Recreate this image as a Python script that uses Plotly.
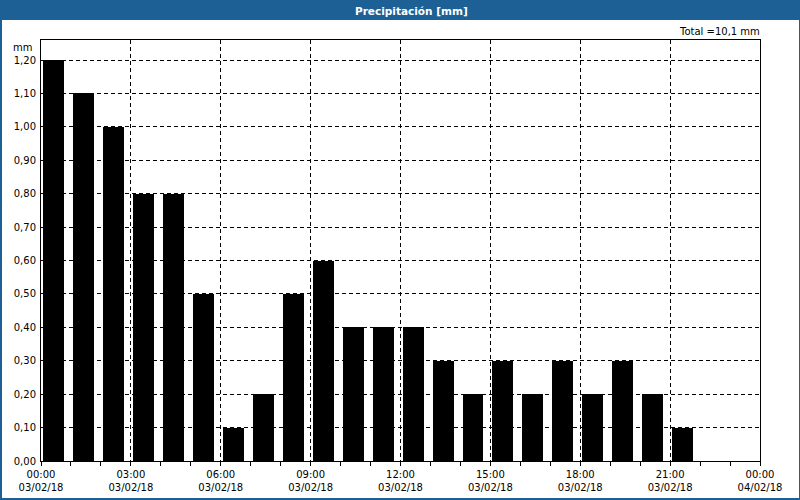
import plotly.graph_objects as go

# ---- data ----
hours = [f"2018-02-03 {h:02d}:00" for h in range(24)]
precip = [1.2, 1.1, 1.0, 0.8, 0.8, 0.5, 0.1, 0.2, 0.5, 0.6, 0.4, 0.4,
          0.4, 0.3, 0.2, 0.3, 0.2, 0.3, 0.2, 0.3, 0.2, 0.1, 0.0, 0.0]
title_text = "Precipitación [mm]"
total_text = "Total =10,1 mm"
unit_text = "mm"
x_start = "2018-02-03 00:00"
x_end = "2018-02-04 00:00"

W, H = 800, 500
L, R, T, B = 41, 40, 40, 39
plot_w = W - L - R
plot_h = H - T - B
BLUE = "#1d6096"
FONT = "DejaVu Sans"


def px(x):
    return (x - L) / plot_w


def py(y):
    return (H - B - y) / plot_h


HOUR_MS = 3600000
fig = go.Figure()
fig.add_trace(go.Bar(
    x=hours, y=precip,
    offset=0.07 * HOUR_MS, width=0.70 * HOUR_MS,
    marker=dict(color="#000000", line=dict(width=0)),
    hoverinfo="x+y",
))

shapes = [
    # title bar
    dict(type="rect", xref="paper", yref="paper", x0=px(0), x1=px(W), y0=py(20), y1=py(0),
         fillcolor=BLUE, line=dict(width=0), layer="above"),
    # frame borders
    dict(type="rect", xref="paper", yref="paper", x0=px(0), x1=px(2), y0=py(H), y1=py(20),
         fillcolor=BLUE, line=dict(width=0), layer="above"),
    dict(type="rect", xref="paper", yref="paper", x0=px(W - 1), x1=px(W), y0=py(H), y1=py(20),
         fillcolor=BLUE, line=dict(width=0), layer="above"),
    dict(type="rect", xref="paper", yref="paper", x0=px(0), x1=px(W), y0=py(H), y1=py(H - 2),
         fillcolor=BLUE, line=dict(width=0), layer="above"),
]

annotations = [
    dict(text=f"<b>{title_text}</b>", xref="paper", yref="paper", x=px(411), y=py(10.5),
         xanchor="center", yanchor="middle", showarrow=False,
         font=dict(family=FONT, size=10.5, color="#ffffff")),
    dict(text=total_text, xref="paper", yref="paper", x=px(762), y=py(32),
         xanchor="right", yanchor="middle", showarrow=False,
         font=dict(family=FONT, size=10, color="#000000")),
    dict(text=unit_text, xref="paper", yref="paper", x=px(34), y=py(47),
         xanchor="right", yanchor="middle", showarrow=False,
         font=dict(family=FONT, size=10, color="#000000")),
]

fig.update_layout(
    width=W, height=H,
    margin=dict(l=L, r=R, t=T, b=B, pad=0, autoexpand=False),
    paper_bgcolor="#ffffff", plot_bgcolor="#ffffff",
    showlegend=False,
    separators=",.",
    font=dict(family=FONT, size=10, color="#000000"),
    shapes=shapes, annotations=annotations,
    bargap=0,
)
fig.update_xaxes(
    type="date", range=[x_start, x_end], automargin=False,
    dtick=3 * HOUR_MS, tick0=x_start,
    tickformat="%H:%M<br>%d/%m/%y",
    ticks="outside", ticklen=4, tickcolor="#000000", tickwidth=1,
    showgrid=True, gridcolor="#000000", gridwidth=1, griddash="4px,3px",
    minor=dict(dtick=HOUR_MS, ticks="outside", ticklen=4, tickcolor="#000000", showgrid=False),
    showline=True, linecolor="#000000", linewidth=1, mirror=True,
    zeroline=False, fixedrange=True,
    tickfont=dict(family=FONT, size=10, color="#000000"),
)
fig.update_yaxes(
    range=[0, 1.26], dtick=0.1, tick0=0, tickformat=".2f", automargin=False,
    ticks="", showgrid=True, gridcolor="#000000", gridwidth=1, griddash="4px,3px",
    showline=True, linecolor="#000000", linewidth=1, mirror=True,
    zeroline=False, fixedrange=True, ticklabelstandoff=2,
    tickfont=dict(family=FONT, size=10, color="#000000"),
)

fig.write_html("out.html")
